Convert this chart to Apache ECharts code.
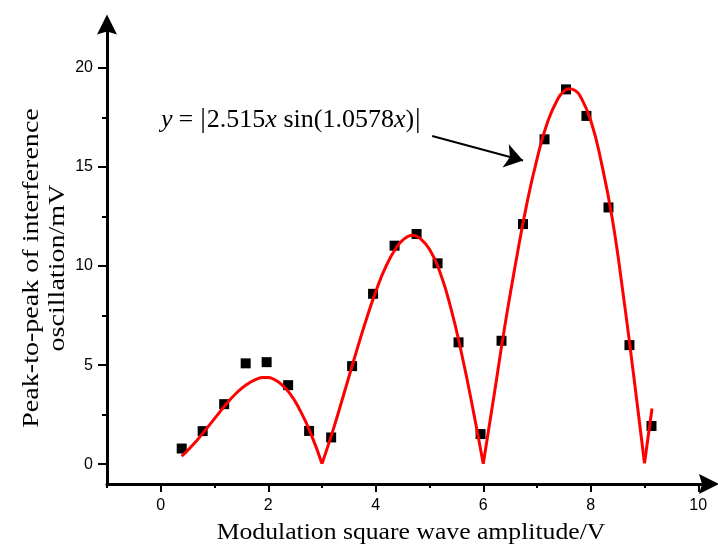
<!DOCTYPE html>
<html>
<head>
<meta charset="utf-8">
<script src="https://cdn.jsdelivr.net/npm/echarts@6/dist/echarts.min.js"></script>
<style>html,body{margin:0;padding:0;background:#fff}#c{width:718px;height:547px}</style>
</head>
<body>
<div id="c"></div>
<script>
// Measured points (Modulation square wave amplitude / V, peak-to-peak / mV)
const measX = [0.39,0.78,1.18,1.58,1.97,2.37,2.76,3.17,3.56,3.95,4.35,4.76,5.15,5.54,5.95,6.34,6.74,7.14,7.54,7.92,8.33,8.72,9.13];
const measY = [0.79,1.67,3.03,5.09,5.15,3.99,1.68,1.35,4.95,8.60,11.03,11.62,10.14,6.15,1.52,6.23,12.12,16.40,18.92,17.58,12.96,6.01,1.93];

// Fitted curve (x, y)
const fitLobe1 = [[0.39,0.40],[0.6,0.98],[0.8,1.62],[1.0,2.30],[1.2,2.98],[1.4,3.57],[1.6,4.02],[1.8,4.31],[1.9,4.37],[2.0,4.37],[2.1,4.29],[2.2,4.13],[2.4,3.57],[2.6,2.68],[2.8,1.49],[3.0,0.02]];
const fitLobe2 = [[3.0,0.02],[3.2,1.67],[3.4,3.48],[3.6,5.32],[3.8,7.10],[4.0,8.71],[4.2,10.05],[4.4,11.00],[4.5,11.30],[4.6,11.50],[4.7,11.56],[4.8,11.45],[5.0,10.85],[5.2,9.65],[5.4,7.85],[5.6,5.55],[5.8,2.90],[6.0,0.02]];
const fitLobe3 = [[6.0,0.02],[6.2,3.45],[6.4,6.95],[6.6,10.10],[6.8,13.00],[7.0,15.40],[7.2,17.30],[7.4,18.50],[7.5,18.82],[7.6,18.95],[7.7,18.88],[7.8,18.60],[8.0,17.35],[8.2,15.20],[8.4,12.40],[8.6,8.65],[8.8,4.45],[9.0,0.05]];
const fitLobe4 = [[9.0,0.05],[9.14,2.81]];

const xMajorTicks = [0,2,4,6,8,10];
const xMinorTicks = [-1,1,3,5,7,9];
const yMajorTicks = [0,5,10,15,20];
const yMinorTicks = [2.5,7.5,12.5,17.5];

const xTitle = 'Modulation square wave amplitude/V';
const yTitle = 'Peak-to-peak of interference\noscillation/mV';

const chart = echarts.init(document.getElementById('c'));
const arrowPath = 'path://M10,0 L20,20 L10,17 L0,20 Z';
const labelFont = {color:'#000', fontFamily:'Liberation Sans', fontSize:16};

const lobeSeries = [fitLobe1, fitLobe2, fitLobe3, fitLobe4].map(d => ({
  type:'line', data:d, smooth:0.5, symbol:'none', z:5,
  lineStyle:{color:'#ff0000', width:3}, silent:true
}));

chart.setOption({
  animation:false,
  backgroundColor:'#fff',
  grid:{left:107, right:9, top:24.4, bottom:63, containLabel:false},
  graphic:[
    {type:'text', x:411, y:521, scaleX:1.07, silent:true,
     style:{text:xTitle, fontFamily:'Liberation Serif', fontSize:24, fill:'#000', align:'center', verticalAlign:'top'}},
    {type:'text', x:45, y:268, rotation:Math.PI/2, scaleX:1.17, silent:true,
     style:{text:yTitle, fontFamily:'Liberation Serif', fontSize:24, lineHeight:26, fill:'#000', align:'center', verticalAlign:'middle'}}
  ],
  xAxis:[{
    type:'value', min:-1, max:10.2, position:'bottom',
    axisLine:{onZero:false, lineStyle:{color:'#000', width:3}, symbol:['none', arrowPath], symbolSize:[20,20]},
    axisTick:{show:true, length:8, lineStyle:{color:'#000', width:2}, customValues:xMajorTicks},
    axisLabel:Object.assign({margin:14, customValues:xMajorTicks}, labelFont),
    splitLine:{show:false}
  },{
    type:'value', min:-1, max:10.2, position:'bottom',
    axisLine:{show:false, onZero:false},
    axisTick:{show:true, length:4, lineStyle:{color:'#000', width:2}, customValues:xMinorTicks},
    axisLabel:{show:false}, splitLine:{show:false}
  }],
  yAxis:[{
    type:'value', min:-1, max:22.2, position:'left',
    axisLine:{onZero:false, lineStyle:{color:'#000', width:3}, symbol:['none', arrowPath], symbolSize:[20,20]},
    axisTick:{show:true, length:9, lineStyle:{color:'#000', width:2}, customValues:yMajorTicks},
    axisLabel:Object.assign({margin:14, customValues:yMajorTicks}, labelFont),
    splitLine:{show:false}
  },{
    type:'value', min:-1, max:22.2, position:'left',
    axisLine:{show:false, onZero:false},
    axisTick:{show:true, length:5, lineStyle:{color:'#000', width:2}, customValues:yMinorTicks},
    axisLabel:{show:false}, splitLine:{show:false}
  }],
  series:[{
    type:'scatter', data:measX.map((x,i)=>[x, measY[i]]),
    symbol:'rect', symbolSize:10, itemStyle:{color:'#000', opacity:1}, z:3, silent:true,
    markPoint:{
      silent:true, symbol:'rect', symbolSize:1, itemStyle:{color:'rgba(0,0,0,0)'},
      label:{
        show:true, position:'inside',
        formatter:'{i|y}{op|=}{bar||}{n|2.515}{i|x}{n| sin(1.0578}{i|x}{n|)}{bar||}',
        fontFamily:'Liberation Serif', fontSize:26, color:'#000',
        rich:{
          i:{fontFamily:'Liberation Serif', fontStyle:'italic', fontSize:26, color:'#000'},
          n:{fontFamily:'Liberation Serif', fontSize:26, color:'#000'},
          op:{fontFamily:'Liberation Serif', fontSize:26, color:'#000', padding:[0,6,0,6]},
          bar:{fontFamily:'Liberation Serif', fontSize:28, color:'#000', padding:[0,1,0,1]}
        }
      },
      data:[{coord:[2.43,17.37]}]
    },
    markLine:{
      silent:true, symbol:['none','arrow'], symbolSize:18, animation:false,
      lineStyle:{color:'#000', width:2, type:'solid'}, itemStyle:{color:'#000'},
      label:{show:false},
      data:[[{coord:[5.05,16.57]},{coord:[6.74,15.33]}]]
    }
  }].concat(lobeSeries)
});
</script>
</body>
</html>
